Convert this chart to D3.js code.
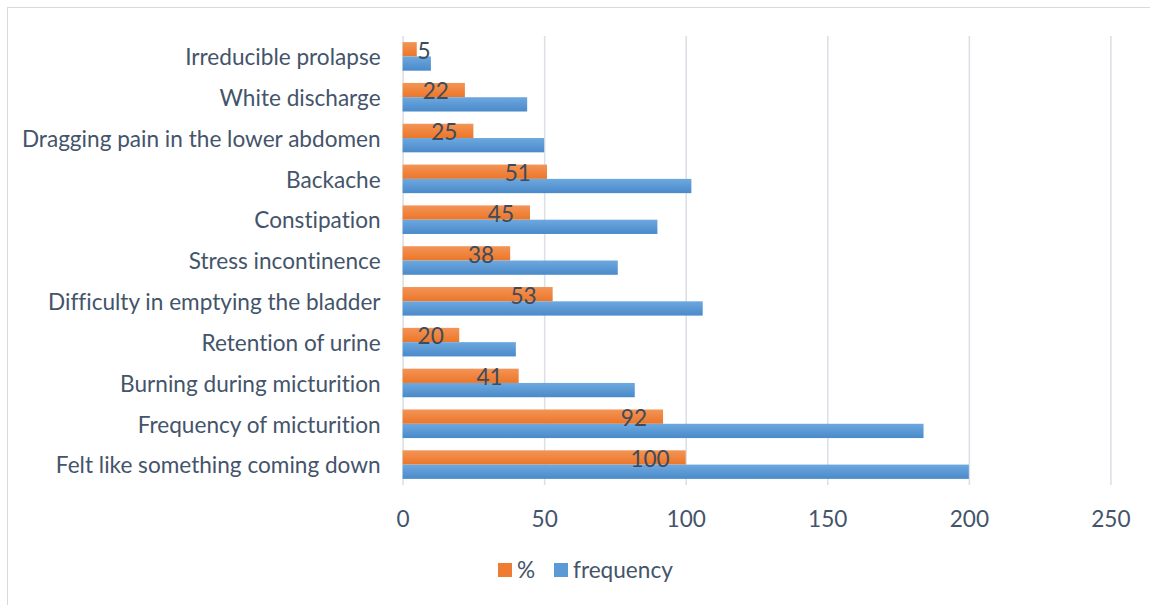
<!DOCTYPE html>
<html>
<head>
<meta charset="utf-8">
<script src="https://cdn.jsdelivr.net/npm/d3@7"></script>
<style>
  body { margin: 0; background: #fff; }
  svg { display: block; }
  text { font-family: Lato, "Open Sans", sans-serif; font-variant-ligatures: none; }
</style>
</head>
<body>
<svg id="chart" width="1150" height="605"></svg>
<script>
// Symptom categories, top to bottom
const categories = [
  "Irreducible prolapse",
  "White discharge",
  "Dragging pain in the lower abdomen",
  "Backache",
  "Constipation",
  "Stress incontinence",
  "Difficulty in emptying the bladder",
  "Retention of urine",
  "Burning during micturition",
  "Frequency of micturition",
  "Felt like something coming down"
];
// Share of patients (%) and patient counts for each symptom
const percent   = [5, 22, 25, 51, 45, 38, 53, 20, 41, 92, 100];
const frequency = [10, 44, 50, 102, 90, 76, 106, 40, 82, 184, 200];
const xTicks = [0, 50, 100, 150, 200, 250];
const seriesNames = ["%", "frequency"];

const W = 1150, H = 605;
const plot = { left: 402.6, right: 1110.4, top: 36, bottom: 485 };
const fontSize = 22.6;
const axisColor = "#44546A";
const labelColor = "#404B5A";

const svg = d3.select("#chart");

// Gradients for the two series
const defs = svg.append("defs");
const grads = [
  { id: "gOrange", top: "#F39457", bottom: "#EC7628" },
  { id: "gBlue", top: "#6DA8DF", bottom: "#4A8ACA" }
];
grads.forEach(g => {
  const lg = defs.append("linearGradient").attr("id", g.id)
    .attr("x1", 0).attr("y1", 0).attr("x2", 0).attr("y2", 1);
  lg.append("stop").attr("offset", "0%").attr("stop-color", g.top);
  lg.append("stop").attr("offset", "100%").attr("stop-color", g.bottom);
});
const fills = ["url(#gOrange)", "url(#gBlue)"];
const legendFills = ["#EE7D33", "#5B9BD5"];

// Chart frame
svg.append("rect")
  .attr("x", 7.5).attr("y", 7.5)
  .attr("width", W + 20).attr("height", H + 20)
  .attr("fill", "none").attr("stroke", "#D9D9D9").attr("stroke-width", 1);

const x = d3.scaleLinear().domain([0, 250]).range([plot.left, plot.right]);
const y = d3.scaleBand().domain(categories)
  .range([plot.top, plot.bottom]).paddingInner(0.3).paddingOuter(0.15);
const ySub = d3.scaleBand().domain(seriesNames).range([0, y.bandwidth()]);

// Vertical gridlines and value axis
const xAxis = svg.append("g")
  .attr("transform", `translate(0,${plot.bottom})`)
  .call(d3.axisBottom(x).tickValues(xTicks)
    .tickSize(-(plot.bottom - plot.top)).tickPadding(26));
xAxis.select(".domain").remove();
xAxis.selectAll("line").attr("stroke", "#DCE0E6").attr("stroke-width", 1.6);
xAxis.selectAll("text")
  .attr("fill", axisColor).attr("font-size", fontSize)
  .style("font-family", "Lato, 'Open Sans', sans-serif");

// Category axis
const yAxis = svg.append("g")
  .attr("transform", `translate(${plot.left},1.5)`)
  .call(d3.axisLeft(y).tickSize(0).tickPadding(22));
yAxis.select(".domain").remove();
yAxis.selectAll("text")
  .attr("fill", axisColor).attr("font-size", fontSize)
  .style("font-family", "Lato, 'Open Sans', sans-serif");

// Bars
const rows = categories.map((c, i) => ({ cat: c, values: [percent[i], frequency[i]] }));
const groups = svg.append("g").selectAll("g").data(rows).join("g")
  .attr("transform", d => `translate(0,${y(d.cat)})`);
groups.selectAll("rect")
  .data(d => d.values.map((v, k) => ({ key: seriesNames[k], v, k })))
  .join("rect")
  .attr("x", x(0))
  .attr("y", d => ySub(d.key))
  .attr("width", d => x(d.v) - x(0))
  .attr("height", ySub.bandwidth())
  .attr("fill", d => fills[d.k]);

// Value labels on the % bars (inside end)
const labels = svg.append("g").selectAll("text").data(rows).join("text")
  .attr("font-size", fontSize)
  .attr("fill", labelColor)
  .attr("text-anchor", "end")
  .attr("y", d => y(d.cat) + ySub(seriesNames[0]) + ySub.bandwidth() / 2 + 1.5)
  .attr("dy", "0.35em")
  .text((d, i) => percent[i]);
labels.attr("x", function (d, i) {
  const w = this.getComputedTextLength();
  return Math.max(x(percent[i]) - 16, x(0) + 15 + w);
});

// Legend
const legend = svg.append("g");
const legendItems = [
  { name: seriesNames[0], sx: 498, tx: 517 },
  { name: seriesNames[1], sx: 554, tx: 573 }
];
legendItems.forEach((it, k) => {
  legend.append("rect").attr("x", it.sx).attr("y", 563)
    .attr("width", 14).attr("height", 14).attr("fill", legendFills[k]);
  legend.append("text").attr("x", it.tx).attr("y", 570).attr("dy", "0.35em")
    .attr("font-size", fontSize).attr("fill", axisColor).text(it.name);
});
</script>
</body>
</html>
